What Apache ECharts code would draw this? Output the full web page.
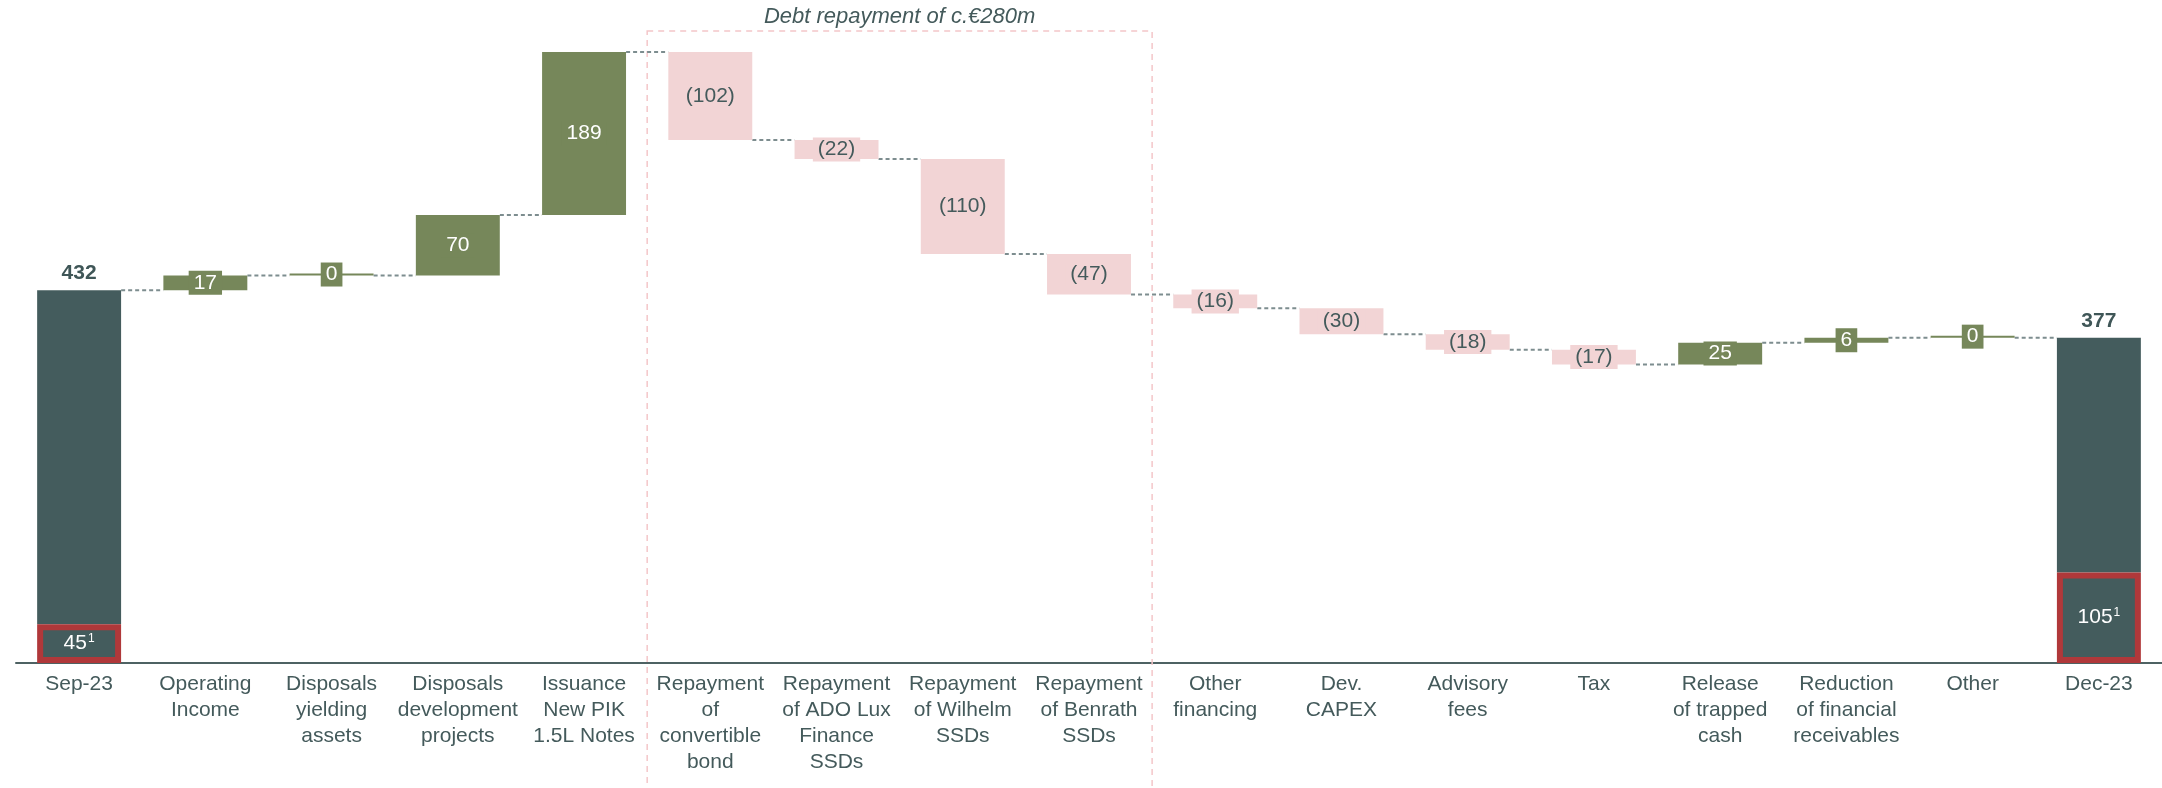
<!DOCTYPE html>
<html>
<head>
<meta charset="utf-8">
<script src="https://cdn.jsdelivr.net/npm/echarts@6/dist/echarts.min.js"></script>
<style>
  html, body { margin: 0; padding: 0; background: #fff; }
  #chart { width: 2162px; height: 788px; }
</style>
</head>
<body>
<div id="chart"></div>
<script>
const categories = [
  'Sep-23', 'Operating\nIncome', 'Disposals\nyielding\nassets', 'Disposals\ndevelopment\nprojects',
  'Issuance\nNew PIK\n1.5L Notes', 'Repayment\nof\nconvertible\nbond', 'Repayment\nof ADO Lux\nFinance\nSSDs',
  'Repayment\nof Wilhelm\nSSDs', 'Repayment\nof Benrath\nSSDs', 'Other\nfinancing', 'Dev.\nCAPEX',
  'Advisory\nfees', 'Tax', 'Release\nof trapped\ncash', 'Reduction\nof financial\nreceivables', 'Other', 'Dec-23'
]
const startValue = 432
const endValue = 377
const deltas = [17, 0, 70, 189, -102, -22, -110, -47, -16, -30, -18, -17, 25, 6, 0]
// highlighted part of the opening / closing bars (footnote 1)
const highlightValues = [45, 105]
const footnotes = ['1', '1']
const debtBox = { from: 5, to: 8, text: 'Debt repayment of c.€280m' }

const colors = {
  total: '#445c5d',
  up: '#76875a',
  down: '#f2d4d5',
  border: '#b0383a',
  text: '#445a5b',
  connector: '#7d8d8f',
  box: '#f4c6c9'
}

// build waterfall series from the arrays
const n = categories.length
const base = [], low = [], high = [], up = [], down = [], levels = []
let running = startValue
levels.push(running)
base.push('-'); low.push(highlightValues[0]); high.push(startValue - highlightValues[0]); up.push('-'); down.push('-')
deltas.forEach(d => {
  if (d >= 0) {
    base.push(running); up.push(d); down.push('-')
    running += d
  } else {
    running += d
    base.push(running); up.push('-'); down.push(-d)
  }
  low.push('-'); high.push('-')
  levels.push(running)
})
base.push('-'); low.push(highlightValues[1]); high.push(endValue - highlightValues[1]); up.push('-'); down.push('-')
const totals = [startValue].concat(new Array(n - 2).fill(null)).concat([endValue])
const yMax = Math.max.apply(null, levels)

const font = 'Liberation Sans, Arial, sans-serif'
const chart = echarts.init(document.getElementById('chart'))

chart.setOption({
  animation: false,
  textStyle: { fontFamily: font },
  grid: { left: 16, width: 2148, top: 52, bottom: 125 },
  xAxis: {
    type: 'category',
    data: categories,
    axisTick: { show: false },
    axisLine: { lineStyle: { color: '#4e6263', width: 2 } },
    axisLabel: { color: colors.text, fontSize: 21, lineHeight: 26, margin: 8, interval: 0 }
  },
  yAxis: { type: 'value', min: 0, max: yMax, show: false, splitLine: { show: false } },
  series: [
    {
      type: 'custom',
      name: 'debtBox',
      silent: true,
      clip: false,
      z: 1,
      encode: { x: [0, 1], y: 2 },
      data: [[debtBox.from, debtBox.to, yMax]],
      renderItem(params, api) {
        const band = api.size([1, 0])[0]
        const a = api.coord([api.value(0), api.value(2)])
        const b = api.coord([api.value(1), api.value(2)])
        const left = a[0] - band / 2
        const right = b[0] + band / 2
        const top = a[1] - 21
        return {
          type: 'group',
          children: [
            {
              type: 'rect',
              shape: { x: left, y: top, width: right - left, height: api.getHeight() - top + 5 },
              style: { fill: 'none', stroke: colors.box, lineWidth: 1.5, lineDash: [6, 5] }
            },
            {
              type: 'text',
              style: {
                x: (left + right) / 2, y: top - 3, text: debtBox.text,
                fill: colors.text, font: 'italic 22px ' + font,
                align: 'center', verticalAlign: 'bottom'
              }
            }
          ]
        }
      }
    },
    {
      type: 'custom',
      name: 'connectors',
      silent: true,
      z: 2,
      encode: { x: 0, y: 1 },
      data: levels.slice(0, n - 1).map((v, i) => [i, v]),
      renderItem(params, api) {
        const half = api.size([1, 0])[0] * 0.333
        const p1 = api.coord([api.value(0), api.value(1)])
        const p2 = api.coord([api.value(0) + 1, api.value(1)])
        return {
          type: 'line',
          shape: { x1: p1[0] + half, y1: p1[1], x2: p2[0] - half, y2: p1[1] },
          style: { stroke: colors.connector, lineWidth: 2, lineDash: [4, 3] }
        }
      }
    },
    {
      type: 'bar', name: 'base', stack: 'w', barWidth: '66.5%',
      itemStyle: { color: 'transparent' }, silent: true, data: base
    },
    {
      type: 'bar', name: 'low', stack: 'w', z: 4,
      itemStyle: { color: colors.total, borderColor: colors.border, borderWidth: 6 },
      label: {
        show: true, position: 'inside',
        formatter: p => '{a|' + p.value + '}{s|' + footnotes[p.dataIndex === 0 ? 0 : 1] + '}',
        rich: {
          a: { color: '#fff', fontSize: 21, lineHeight: 22, fontFamily: font },
          s: { color: '#fff', fontSize: 12, lineHeight: 22, verticalAlign: 'top', padding: [0, 0, 8, 1], fontFamily: font }
        }
      },
      data: low
    },
    {
      type: 'bar', name: 'high', stack: 'w', z: 3,
      itemStyle: { color: colors.total },
      label: {
        show: true, position: 'top', distance: 6,
        formatter: p => totals[p.dataIndex],
        color: '#3f5657', fontSize: 21, fontWeight: 'bold'
      },
      data: high
    },
    {
      type: 'bar', name: 'up', stack: 'w', barMinHeight: 2,
      itemStyle: { color: colors.up },
      label: {
        show: true, position: 'inside', color: '#fff', fontSize: 21, lineHeight: 22,
        backgroundColor: colors.up, padding: [1, 5]
      },
      data: up
    },
    {
      type: 'bar', name: 'down', stack: 'w',
      itemStyle: { color: colors.down },
      label: {
        show: true, position: 'inside', color: colors.text, fontSize: 21, lineHeight: 22,
        backgroundColor: colors.down, padding: [1, 5],
        formatter: p => '(' + p.value + ')'
      },
      data: down
    }
  ]
})
</script>
</body>
</html>
